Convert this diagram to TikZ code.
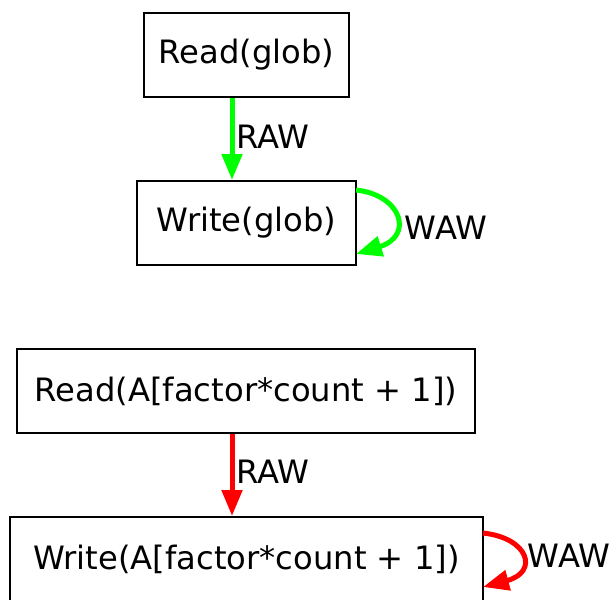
\documentclass[tikz,border=0pt]{standalone}
\usepackage{fontspec}
\setmainfont{DejaVu Sans}
\usetikzlibrary{arrows.meta}
\begin{document}
\begin{tikzpicture}[x=0.5pt,y=-0.5pt,
  op/.style={draw=black, line width=1pt, minimum height=42pt, inner sep=0pt,
    font=\fontsize{16.1}{19}\selectfont},
  dep/.style={line width=2.5pt, -{Triangle[length=13pt,width=10pt]}},
  lbl/.style={font=\fontsize{16.1}{19}\selectfont, inner sep=0pt}]
\useasboundingbox (0,0) rectangle (613,599);
\clip (0,0) rectangle (613,599);

% scalar dependences on glob
\node[op, minimum width=102.5pt] (rg) at (246.5,55) {Read(glob)};
\node[op, minimum width=109.5pt] (wg) at (246.5,223) {Write(glob)};
\draw[dep, green] (rg.south -| 232,0) -- (wg.north -| 232,0);
\node[lbl, anchor=west] (rawg) at (236,137) {RAW};
\coordinate (gs) at (356,190);
\coordinate (ge) at (356,254);
\draw[dep, green] (gs) .. controls (402,195) and (414,236) .. (ge);
\node[lbl] (wawg) at (446,228) {WAW};

% array dependences on A[factor*count + 1]
\node[op, minimum width=229pt] (ra) at (246,391) {Read(A[factor*count + 1])};
\node[op, minimum width=236.5pt] (wa) at (246.5,559) {Write(A[factor*count + 1])};
\draw[dep, red] (ra.south -| 232,0) -- (wa.north -| 232,0);
\node[lbl, anchor=west] (rawa) at (236,472) {RAW};
\coordinate (as) at (483,533);
\coordinate (ae) at (483,587);
\draw[dep, red] (as) .. controls (529,538) and (539,572) .. (ae);
\node[lbl] (wawa) at (569,556) {WAW};
\end{tikzpicture}
\end{document}
